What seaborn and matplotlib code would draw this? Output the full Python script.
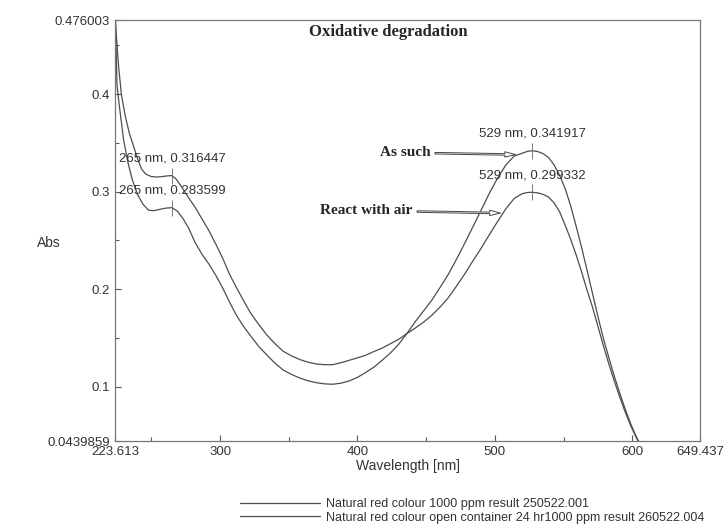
import matplotlib
matplotlib.use("Agg")
import matplotlib.pyplot as plt
import numpy as np
import pandas as pd
import seaborn as sns

# spectra (wavelength in nm, absorbance)
wl_such = [223.613, 225, 227, 230, 233, 236, 240, 244, 248, 252, 256, 260, 265, 269,
           273, 277, 282, 287, 292, 297, 302, 307, 312, 317, 322, 328, 334, 340, 346,
           352, 358, 364, 370, 376, 382, 388, 394, 400, 406, 412, 418, 424, 430, 436,
           442, 448, 454, 460, 466, 472, 478, 484, 490, 496, 502, 508, 514, 520, 524,
           527, 531, 535, 539, 543, 547, 551, 555, 559, 563, 567, 571, 575, 579, 583,
           587, 591, 595, 599, 603, 606]
abs_such = [0.500, 0.410, 0.385, 0.352, 0.330, 0.313, 0.297, 0.287, 0.281, 0.2805,
            0.2818, 0.2830, 0.283599, 0.2800, 0.2725, 0.2630, 0.2475, 0.2355, 0.2255,
            0.2140, 0.2010, 0.1865, 0.1730, 0.1620, 0.1525, 0.1415, 0.1325, 0.1240,
            0.1170, 0.1125, 0.1088, 0.1060, 0.1040, 0.1028, 0.1024, 0.1035, 0.1058,
            0.1095, 0.1145, 0.1200, 0.1270, 0.1345, 0.1435, 0.1545, 0.1665, 0.1775,
            0.1885, 0.2015, 0.2150, 0.2305, 0.2470, 0.2640, 0.2810, 0.2985, 0.3140,
            0.3275, 0.3365, 0.3395, 0.3415, 0.341917, 0.3412, 0.3390, 0.3350, 0.3275,
            0.3170, 0.3035, 0.2860, 0.2650, 0.2430, 0.2195, 0.1955, 0.1715, 0.1490,
            0.1290, 0.1100, 0.0925, 0.0760, 0.0610, 0.0480, 0.0400]

wl_air = [223.613, 226, 228.2, 231, 234, 237, 240, 243, 246, 250, 254, 258, 262, 265,
          268, 272, 277, 282, 287, 292, 297, 302, 307, 312, 317, 322, 328, 334, 340,
          346, 352, 358, 364, 370, 376, 382, 388, 394, 400, 406, 412, 418, 424, 430,
          436, 442, 448, 454, 460, 466, 472, 478, 484, 490, 496, 502, 508, 514, 520,
          524, 527, 531, 535, 539, 543, 547, 551, 555, 559, 563, 567, 571, 575, 579,
          583, 587, 591, 595, 599, 603, 606]
abs_air = [0.480, 0.432, 0.400, 0.378, 0.360, 0.347, 0.334, 0.323, 0.318, 0.3155,
           0.3150, 0.3155, 0.3162, 0.316447, 0.3130, 0.3050, 0.2940, 0.2837, 0.2718,
           0.2598, 0.2460, 0.2315, 0.2150, 0.2015, 0.1885, 0.1760, 0.1640, 0.1530,
           0.1440, 0.1362, 0.1315, 0.1278, 0.1250, 0.1232, 0.1225, 0.1225, 0.1245,
           0.1270, 0.1295, 0.1322, 0.1360, 0.1395, 0.1440, 0.1485, 0.1545, 0.1600,
           0.1660, 0.1730, 0.1815, 0.1910, 0.2030, 0.2155, 0.2290, 0.2420, 0.2560,
           0.2695, 0.2825, 0.2930, 0.2980, 0.2992, 0.299332, 0.2988, 0.2972, 0.2945,
           0.2885, 0.2795, 0.2660, 0.2515, 0.2355, 0.2180, 0.1990, 0.1815, 0.1615,
           0.1415, 0.1225, 0.1050, 0.0885, 0.0730, 0.0592, 0.0472, 0.0400]

label_such = "Natural red colour 1000 ppm result 250522.001"
label_air = "Natural red colour open container 24 hr1000 ppm result 260522.004"

# peak annotations: (label wavelength, value, plotted wavelength)
peak_nm = [265, 265, 529, 529]
peak_val = [0.316447, 0.283599, 0.341917, 0.299332]
peak_pos = [265.0, 265.0, 527.0, 527.0]

xmin, xmax = 223.613, 649.437
ymin, ymax = 0.0439859, 0.476003
xticks = [xmin, 300, 400, 500, 600, xmax]
xtick_labels = ["223.613", "300", "400", "500", "600", "649.437"]
yticks = [ymin, 0.1, 0.2, 0.3, 0.4, ymax]
ytick_labels = ["0.0439859", "0.1", "0.2", "0.3", "0.4", "0.476003"]

df = pd.concat([
    pd.DataFrame({"wavelength": wl_such, "abs": abs_such, "sample": label_such}),
    pd.DataFrame({"wavelength": wl_air, "abs": abs_air, "sample": label_air}),
])

sns.set_theme(style="ticks")
plt.rcParams["font.family"] = ["Liberation Sans", "DejaVu Sans"]

fig = plt.figure(figsize=(7.28, 5.29), dpi=100)
ax = fig.add_axes([0.158, 0.166, 0.804, 0.796])

line_col = "#4d4d4d"
sns.lineplot(data=df, x="wavelength", y="abs", hue="sample", sort=False,
             palette={label_such: line_col, label_air: line_col},
             linewidth=0.9, ax=ax)

ax.set_xlim(xmin, xmax)
ax.set_ylim(ymin, ymax)
ax.set_xticks(xticks)
ax.set_xticklabels(xtick_labels)
ax.set_yticks(yticks)
ax.set_yticklabels(ytick_labels)
ax.set_xticks([250, 350, 450, 550], minor=True)
ax.set_yticks([0.15, 0.25, 0.35, 0.45], minor=True)
ax.tick_params(which="both", direction="in", colors="#555555", labelcolor="#333333",
               labelsize=9.5, width=0.8)
ax.tick_params(which="major", length=4.5)
ax.tick_params(which="minor", length=3)
for sp in ax.spines.values():
    sp.set_color("#777777")
    sp.set_linewidth(0.9)

ax.set_xlabel("Wavelength [nm]", fontsize=10, color="#333333", labelpad=1)
ax.set_ylabel("Abs", fontsize=10, color="#333333", rotation=0, ha="left", va="center")
ax.yaxis.set_label_coords(-0.134, 0.47)

# peak markers and value labels
for nm, val, pos in zip(peak_nm, peak_val, peak_pos):
    ax.plot([pos], [val], marker="|", markersize=11, color="#777777", mew=0.7)
    ax.annotate(f"{nm} nm, {val}", xy=(pos, val), xytext=(0, 8),
                textcoords="offset points", ha="center", va="bottom",
                fontsize=9.5, color="#333333")

serif = ["Liberation Serif", "DejaVu Serif"]
ax.text(0.332, 0.972, "Oxidative degradation", transform=ax.transAxes,
        fontsize=12, fontweight="bold", family=serif, va="center", ha="left")

arrow = dict(arrowstyle="simple,head_length=0.7,head_width=0.35,tail_width=0.1",
             fc="white", ec="#444444", lw=0.7, shrinkA=1, shrinkB=0)
ax.annotate("As such", xy=(515.0, 0.338), xytext=(453.0, 0.340),
            fontsize=11, fontweight="bold", family=serif, ha="right", va="center",
            arrowprops=arrow)
ax.annotate("React with air", xy=(504.0, 0.278), xytext=(440.0, 0.2806),
            fontsize=11, fontweight="bold", family=serif, ha="right", va="center",
            arrowprops=arrow)

sns.move_legend(ax, "upper left", bbox_to_anchor=(0.33, 0.058),
                bbox_transform=fig.transFigure, frameon=False, title=None,
                fontsize=9, handlelength=6.4, handletextpad=0.5,
                labelspacing=0.1, borderpad=0, borderaxespad=0)
for t in ax.get_legend().get_texts():
    t.set_color("#333333")

fig.savefig("out.png", dpi=100)
